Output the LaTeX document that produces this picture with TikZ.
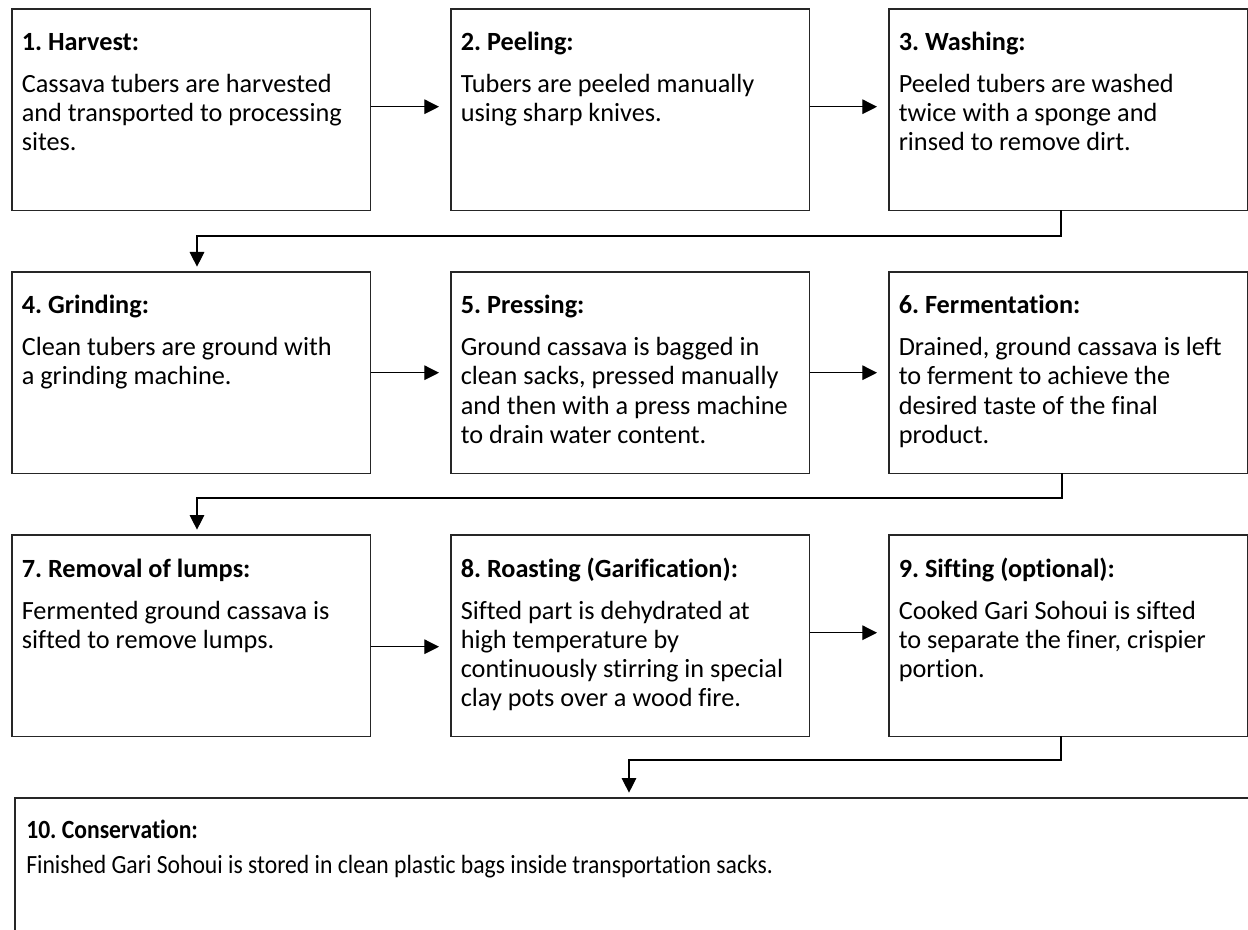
\documentclass[tikz,border=0pt]{standalone}
\usepackage{fontspec}
\setmainfont{Carlito}[Ligatures=NoCommon]
\newfontfamily\narrowfont{Carlito}[FakeStretch=0.9,Ligatures=NoCommon]
\usetikzlibrary{arrows.meta}

\tikzset{
  stepbox/.style={draw=black!85,line width=1pt,anchor=north west,outer sep=0pt,inner sep=0pt,
    minimum width=268.9pt,minimum height=151.1pt},
  desc/.style={anchor=base west,inner sep=0pt},
  flow/.style={line width=0.8pt,-{Triangle[length=11pt,width=11pt]}}
}
\newcommand{\descwd}{262pt}
\newcommand{\stepdesc}[3][9.75pt]{\parbox[t]{\descwd}{\raggedright\frenchspacing\fontsize{19.7}{21.75}\selectfont
  \textbf{#2}\par\vspace{#1}#3}}

\begin{document}
\begin{tikzpicture}[x=0.75pt,y=-0.75pt]
    \path[use as bounding box,clip] (0,0) rectangle (1248,930);

    \node[stepbox](s1) at (12,9) {};
    \node[stepbox](s2) at (451,9) {};
    \node[stepbox](s3) at (889,9) {};
    \node[stepbox](s4) at (12,272) {};
    \node[stepbox](s5) at (451,272) {};
    \node[stepbox](s6) at (889,272) {};
    \node[stepbox](s7) at (12,535) {};
    \node[stepbox](s8) at (451,535) {};
    \node[stepbox](s9) at (889,535) {};
    \node[stepbox,minimum width=975pt,minimum height=150pt](s10) at (15,798) {};

    \node[desc](d1) at ([shift={(9.5,42)}]s1.north west)
      {\stepdesc{1. Harvest:}{Cassava tubers are harvested\\and transported to processing\\sites.}};
    \node[desc](d2) at ([shift={(9.5,42)}]s2.north west)
      {\stepdesc{2. Peeling:}{Tubers are peeled manually\\using sharp knives.}};
    \node[desc](d3) at ([shift={(9.5,42)}]s3.north west)
      {\stepdesc{3. Washing:}{Peeled tubers are washed\\twice with a sponge and\\rinsed to remove dirt.}};
    \node[desc](d4) at ([shift={(9.5,42)}]s4.north west)
      {\stepdesc{4. Grinding:}{Clean tubers are ground with\\a grinding machine.}};
    \node[desc](d5) at ([shift={(9.5,42)}]s5.north west)
      {\stepdesc{5. Pressing:}{Ground cassava is bagged in\\clean sacks, pressed manually\\and then with a press machine\\to drain water content.}};
    \node[desc](d6) at ([shift={(9.5,42)}]s6.north west)
      {\stepdesc{6. Fermentation:}{Drained, ground cassava is left\\to ferment to achieve the\\desired taste of the final\\product.}};
    \node[desc](d7) at ([shift={(9.5,42)}]s7.north west)
      {\stepdesc{7. Removal of lumps:}{Fermented ground cassava is\\sifted to remove lumps.}};
    \node[desc](d8) at ([shift={(9.5,42)}]s8.north west)
      {\stepdesc{8. Roasting (Garification):}{Sifted part is dehydrated at\\high temperature by\\continuously stirring in special\\clay pots over a wood fire.}};
    \node[desc](d9) at ([shift={(9.5,42)}]s9.north west)
      {\stepdesc{9. Sifting (optional):}{Cooked Gari Sohoui is sifted\\to separate the finer, crispier\\portion.}};
    \node[desc](d10) at ([shift={(11,40)}]s10.north west)
      {\renewcommand{\descwd}{880pt}\narrowfont\stepdesc[4.5pt]{10. Conservation:}{Finished Gari Sohoui is stored in clean plastic bags inside transportation sacks.}};

    \coordinate (k3) at (1061,236);
    \coordinate (k4) at (197,236);
    \coordinate (k6) at (1062,498);
    \coordinate (k7) at (197,498);
    \coordinate (k9) at (1061,760);
    \coordinate (k10) at (629,760);

    \draw[flow,shorten >=9pt] ([shift={(0,-3)}]s1.east) -- ([shift={(0,-3)}]s2.west);
    \draw[flow,shorten >=9pt] ([shift={(0,-3)}]s2.east) -- ([shift={(0,-3)}]s3.west);
    \draw[flow,shorten >=9pt] (s4.east) -- (s5.west);
    \draw[flow,shorten >=9pt] (s5.east) -- (s6.west);
    \draw[flow,shorten >=9pt] ([shift={(0,11)}]s7.east) -- ([shift={(0,11)}]s8.west);
    \draw[flow,shorten >=9pt] ([shift={(0,-3)}]s8.east) -- ([shift={(0,-3)}]s9.west);

    \draw[flow,shorten >=4pt] (s3.south -| k3) -- (k3) -- (k4) -- (s4.north -| k4);
    \draw[flow,shorten >=4pt] (s6.south -| k6) -- (k6) -- (k7) -- (s7.north -| k7);
    \draw[flow,shorten >=4pt] (s9.south -| k9) -- (k9) -- (k10) -- (s10.north -| k10);
\end{tikzpicture}
\end{document}
